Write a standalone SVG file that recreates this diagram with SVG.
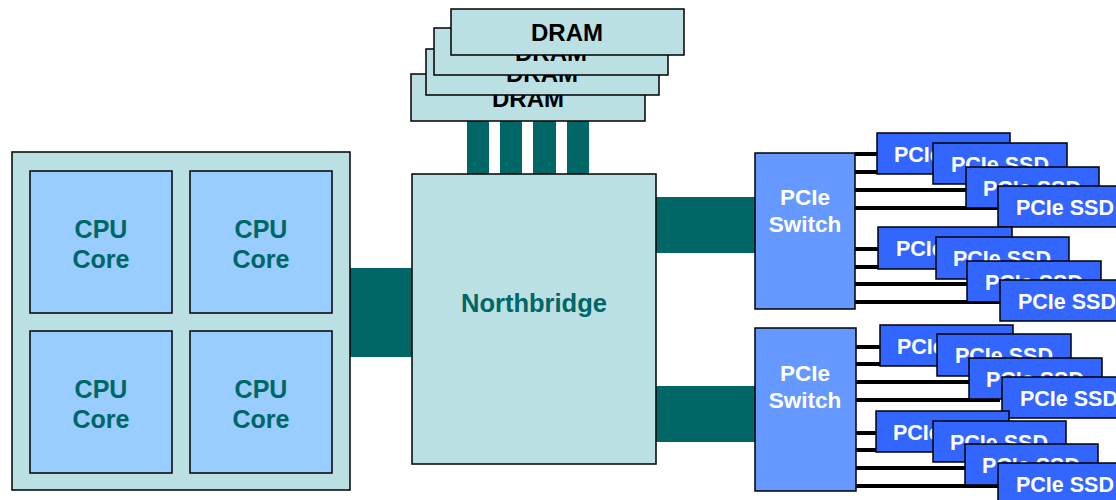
<svg xmlns="http://www.w3.org/2000/svg" width="1116" height="500" viewBox="0 0 1116 500">
<style>
.pale{fill:#BAE0E3;stroke:#000;stroke-width:1.5}
.core{fill:#99CCFF;stroke:#000;stroke-width:1.5}
.sw{fill:#6699FF;stroke:#000;stroke-width:1.5}
.ssd{fill:#3366FF;stroke:#000;stroke-width:1.5}
.bus{fill:#006666}
.lane{stroke:#000;stroke-width:4}
.t{font-family:"Liberation Sans",Arial,sans-serif;font-weight:bold;text-anchor:middle}
.teal{fill:#006666;font-size:25px}
.blk{fill:#000;font-size:24px}
.wht{fill:#fff;font-size:21.5px}
.swt{fill:#fff;font-size:22.5px}
</style>
<rect width="1116" height="500" fill="#fff"/>
<g id="connectors">
<rect class="bus" x="350" y="268" width="62" height="89"/>
<rect class="bus" x="467" y="121" width="22" height="53"/>
<rect class="bus" x="500" y="121" width="22" height="53"/>
<rect class="bus" x="533" y="121" width="23" height="53"/>
<rect class="bus" x="567" y="121" width="22" height="53"/>
<rect class="bus" x="656" y="197" width="99" height="56"/>
<rect class="bus" x="656" y="386" width="99" height="56"/>
<g class="lane">
<line x1="855" y1="154" x2="1000" y2="154"/>
<line x1="855" y1="172" x2="1000" y2="172"/>
<line x1="855" y1="190" x2="1000" y2="190"/>
<line x1="855" y1="208" x2="1000" y2="208"/>
<line x1="855" y1="249" x2="1000" y2="249"/>
<line x1="855" y1="267" x2="1000" y2="267"/>
<line x1="855" y1="284" x2="1000" y2="284"/>
<line x1="855" y1="302" x2="1000" y2="302"/>
<line x1="855" y1="347" x2="1000" y2="347"/>
<line x1="855" y1="364" x2="1000" y2="364"/>
<line x1="855" y1="382" x2="1000" y2="382"/>
<line x1="855" y1="400" x2="1000" y2="400"/>
<line x1="854" y1="433" x2="1000" y2="433"/>
<line x1="854" y1="450" x2="1000" y2="450"/>
<line x1="854" y1="468" x2="1000" y2="468"/>
<line x1="854" y1="486" x2="1000" y2="486"/>
</g>
</g>
<g id="cpu">
<rect class="pale" x="12" y="152" width="338" height="338"/>
</g>
<g id="core1"><rect class="core" x="30" y="171" width="142" height="142"/><text class="t teal" x="101" y="238">CPU</text><text class="t teal" x="101" y="268">Core</text></g>
<g id="core2"><rect class="core" x="190" y="171" width="142" height="142"/><text class="t teal" x="261" y="238">CPU</text><text class="t teal" x="261" y="268">Core</text></g>
<g id="core3"><rect class="core" x="30" y="331" width="142" height="142"/><text class="t teal" x="101" y="398">CPU</text><text class="t teal" x="101" y="428">Core</text></g>
<g id="core4"><rect class="core" x="190" y="331" width="142" height="142"/><text class="t teal" x="261" y="398">CPU</text><text class="t teal" x="261" y="428">Core</text></g>
<g id="northbridge"><rect class="pale" x="412" y="174" width="244" height="290"/><text class="t teal" x="534" y="312" style="font-size:25.5px">Northbridge</text></g>
<g id="dram4"><rect class="pale" x="411" y="74" width="234" height="47"/><text class="t blk" x="528" y="107">DRAM</text></g>
<g id="dram3"><rect class="pale" x="426" y="49" width="233" height="46"/><text class="t blk" x="542" y="82">DRAM</text></g>
<g id="dram2"><rect class="pale" x="434" y="28" width="234" height="47"/><text class="t blk" x="551" y="61">DRAM</text></g>
<g id="dram1"><rect class="pale" x="451" y="9" width="233" height="46"/><text class="t blk" x="567" y="41">DRAM</text></g>
<g id="switch1"><rect class="sw" x="755" y="153" width="100" height="156"/><text class="t swt" x="805" y="205">PCIe</text><text class="t swt" x="805" y="232">Switch</text></g>
<g id="switch2"><rect class="sw" x="755" y="328" width="101" height="163"/><text class="t swt" x="805" y="381">PCIe</text><text class="t swt" x="805" y="408">Switch</text></g>
<g id="ssd1a"><rect class="ssd" x="877" y="133" width="133" height="41"/><text class="t wht" x="943" y="162">PCIe SSD</text></g>
<g id="ssd1b"><rect class="ssd" x="933" y="143" width="134" height="41"/><text class="t wht" x="1000" y="172">PCIe SSD</text></g>
<g id="ssd1c"><rect class="ssd" x="966" y="167" width="133" height="41"/><text class="t wht" x="1032" y="196">PCIe SSD</text></g>
<g id="ssd1d"><rect class="ssd" x="998" y="186" width="133" height="41"/><text class="t wht" x="1065" y="215">PCIe SSD</text></g>
<g id="ssd2a"><rect class="ssd" x="878" y="227" width="134" height="42"/><text class="t wht" x="945" y="256">PCIe SSD</text></g>
<g id="ssd2b"><rect class="ssd" x="936" y="237" width="133" height="42"/><text class="t wht" x="1002" y="266">PCIe SSD</text></g>
<g id="ssd2c"><rect class="ssd" x="967" y="261" width="134" height="41"/><text class="t wht" x="1034" y="290">PCIe SSD</text></g>
<g id="ssd2d"><rect class="ssd" x="1000" y="280" width="133" height="41"/><text class="t wht" x="1067" y="309">PCIe SSD</text></g>
<g id="ssd3a"><rect class="ssd" x="880" y="325" width="133" height="41"/><text class="t wht" x="946" y="354">PCIe SSD</text></g>
<g id="ssd3b"><rect class="ssd" x="937" y="334" width="134" height="42"/><text class="t wht" x="1004" y="363">PCIe SSD</text></g>
<g id="ssd3c"><rect class="ssd" x="969" y="358" width="133" height="41"/><text class="t wht" x="1035" y="387">PCIe SSD</text></g>
<g id="ssd3d"><rect class="ssd" x="1002" y="377" width="133" height="41"/><text class="t wht" x="1069" y="406">PCIe SSD</text></g>
<g id="ssd4a"><rect class="ssd" x="876" y="411" width="133" height="41"/><text class="t wht" x="942" y="440">PCIe SSD</text></g>
<g id="ssd4b"><rect class="ssd" x="933" y="421" width="133" height="41"/><text class="t wht" x="999" y="450">PCIe SSD</text></g>
<g id="ssd4c"><rect class="ssd" x="965" y="444" width="133" height="41"/><text class="t wht" x="1031" y="473">PCIe SSD</text></g>
<g id="ssd4d"><rect class="ssd" x="998" y="463" width="133" height="41"/><text class="t wht" x="1065" y="492">PCIe SSD</text></g>
</svg>
